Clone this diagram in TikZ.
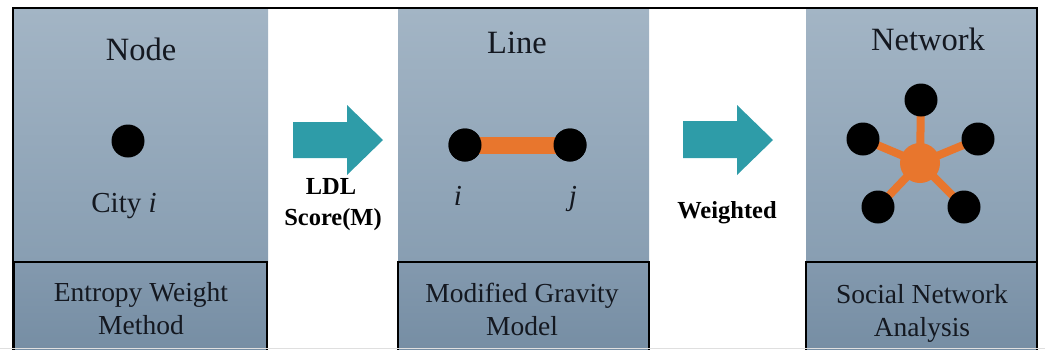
\documentclass[tikz,border=0pt]{standalone}
\usepackage{fontspec}
\setmainfont{Liberation Serif}
\usetikzlibrary{calc}
\definecolor{panTop}{HTML}{A3B5C5}
\definecolor{panBot}{HTML}{889EB2}
\definecolor{boxTop}{HTML}{8399AE}
\definecolor{boxBot}{HTML}{758DA3}
\definecolor{teal}{HTML}{2E9CA8}
\definecolor{orng}{HTML}{E8762D}
\definecolor{txt}{HTML}{141820}
\begin{document}
\begin{tikzpicture}[x=1pt,y=-1pt,
  hdr/.style={font=\fontsize{32.5}{38}\selectfont, text=txt, inner sep=0pt},
  lbl/.style={font=\fontsize{29}{34}\selectfont, text=txt, inner sep=0pt},
  boxtxt/.style={font=\fontsize{27.5}{33}\selectfont, text=txt, align=center, inner sep=0pt},
  arrtxt/.style={font=\bfseries\fontsize{24.5}{31}\selectfont, text=black, align=center, inner sep=0pt},
  blackdot/.style={circle, fill=black, minimum size=33pt, inner sep=0pt},
  hub/.style={circle, fill=orng, minimum size=40pt, inner sep=0pt},
  bar/.style={draw=orng, line width=17pt},
  spoke/.style={draw=orng, line width=8pt},
  bigarrow/.style={fill=teal}
]
\useasboundingbox (0,0) rectangle (1045,349);
% panels
\shade[top color=panTop, bottom color=panBot] (13,8) rectangle (268,262);
\shade[top color=panTop, bottom color=panBot] (398,8) rectangle (649,262);
\shade[top color=panTop, bottom color=panBot] (806,8) rectangle (1037,262);
% bottom boxes
\shade[top color=boxTop, bottom color=boxBot, draw=black, line width=2.5pt] (14,262) rectangle (267,356);
\shade[top color=boxTop, bottom color=boxBot, draw=black, line width=2.5pt] (398,262) rectangle (649,356);
\shade[top color=boxTop, bottom color=boxBot, draw=black, line width=2.5pt] (806,262) rectangle (1037,356);
% outer frame
\draw[black, line width=2pt] (13,356) -- (13,8) -- (1037,8) -- (1037,356);
\draw[gray!25, line width=1pt] (0,348) -- (1045,348);

% panel 1
\node[hdr, anchor=base] (t1) at (141,60) {Node};
\node[blackdot] (city) at (128,141) {};
\node[lbl, anchor=base] (cityl) at (124,212) {City \textit{i}};
\node[boxtxt] (b1) at (141,309) {Entropy Weight\\Method};

% arrow 1
\fill[bigarrow] (293,122) -- (347,122) -- (347,105) -- (383,140) -- (347,175) -- (347,158) -- (293,158) -- cycle;
\node[arrtxt, anchor=base] (ldl) at (331,194) {LDL};
\node[arrtxt, anchor=base] (score) at (333,225) {Score(M)};

% panel 2
\node[hdr, anchor=base] (t2) at (517,53) {Line};
\node[blackdot] (ni) at (465,145) {};
\node[blackdot] (nj) at (570,145) {};
\draw[bar] (ni.center) -- (nj.center);
\node[blackdot] at (ni) {};
\node[blackdot] at (nj) {};
\node[lbl, anchor=base] (li) at (458,205) {\textit{i}};
\node[lbl, anchor=base] (lj) at (573,205) {\textit{j}};
\node[boxtxt] (b2) at (522,309) {Modified Gravity\\Model};

% arrow 2
\fill[bigarrow] (683,121) -- (737,121) -- (737,105) -- (773,140) -- (737,175) -- (737,158) -- (683,158) -- cycle;
\node[arrtxt, anchor=base] (wt) at (727,218) {Weighted};

% panel 3
\node[hdr, anchor=base] (t3) at (928,50) {Network};
\coordinate (c) at (920,163);
\coordinate (pt) at (921,100);
\coordinate (pl) at (863,139);
\coordinate (pr) at (978,139);
\coordinate (pbl) at (878,207);
\coordinate (pbr) at (964,207);
\foreach \p in {pt,pl,pr,pbl,pbr} {\draw[spoke] (c) -- (\p);}
\node[hub] (hubn) at (c) {};
\node[blackdot] (n1) at (pt) {};
\node[blackdot] (n2) at (pl) {};
\node[blackdot] (n3) at (pr) {};
\node[blackdot] (n4) at (pbl) {};
\node[blackdot] (n5) at (pbr) {};
\node[boxtxt] (b3) at (922,313) {Social Network\\Analysis};
\end{tikzpicture}
\end{document}
